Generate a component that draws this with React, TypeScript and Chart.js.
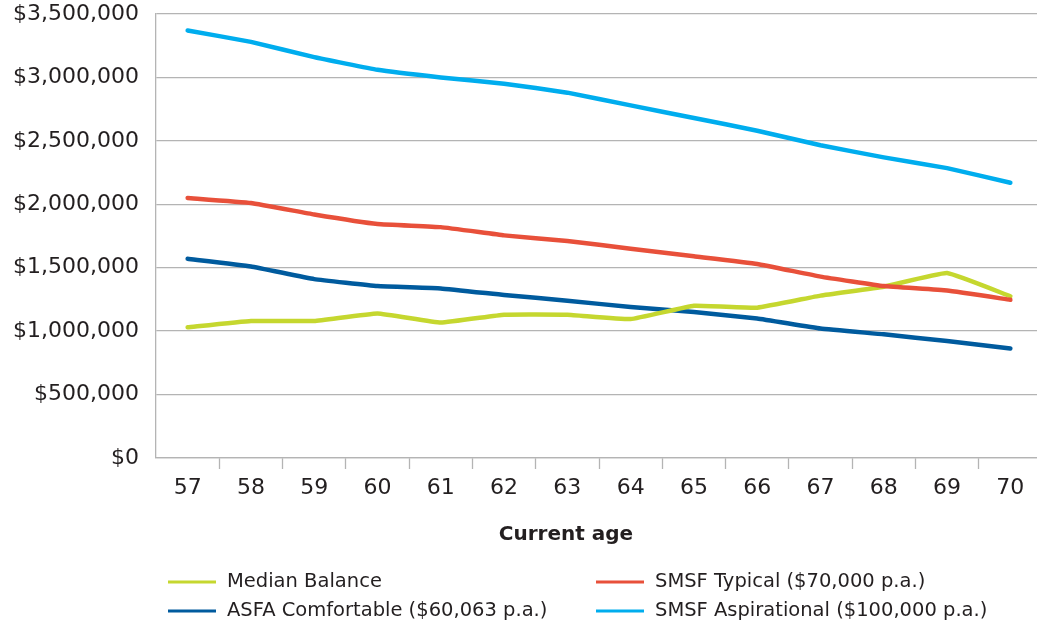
import React, { useEffect, useRef } from "react";
import { Chart, registerables } from "chart.js";

Chart.register(...registerables);

// Ages along the horizontal axis
const ages = ["57", "58", "59", "60", "61", "62", "63", "64", "65", "66", "67", "68", "69", "70"];

// Balances by current age
const medianBalance = [1030000, 1080000, 1080000, 1140000, 1068000, 1130000, 1130000, 1095000, 1200000, 1185000, 1280000, 1350000, 1458000, 1275000];
const asfaComfortable = [1570000, 1510000, 1410000, 1355000, 1337000, 1285000, 1240000, 1190000, 1150000, 1100000, 1020000, 975000, 922000, 864000];
const smsfTypical = [2050000, 2010000, 1920000, 1845000, 1820000, 1755000, 1710000, 1650000, 1590000, 1530000, 1430000, 1355000, 1320000, 1247000];
const smsfAspirational = [3370000, 3280000, 3160000, 3060000, 3000000, 2950000, 2880000, 2780000, 2680000, 2580000, 2465000, 2370000, 2285000, 2170000];

const seriesLabels = [
  "Median Balance",
  "ASFA Comfortable ($60,063 p.a.)",
  "SMSF Typical ($70,000 p.a.)",
  "SMSF Aspirational ($100,000 p.a.)",
];
const seriesColors = ["#c5d72f", "#005b9e", "#e8503a", "#00adee"];

const xTitle = "Current age";

const TEXT = "#231f20";
const GRID = "#b4b4b4";
const FONT = "'DejaVu Sans', sans-serif";

// Two-column legend and axis title drawn under the plot
const legendGrid = {
  id: "legendGrid",
  afterDraw(chart: Chart) {
    const ctx = chart.ctx;
    ctx.save();
    ctx.fillStyle = TEXT;
    ctx.font = `bold 20px ${FONT}`;
    ctx.textAlign = "center";
    ctx.textBaseline = "middle";
    ctx.fillText(xTitle, 566, 535);

    // column-major: Median / ASFA in the left column, SMSF pair on the right
    const cols = [168, 596];
    const rows = [582, 611];
    ctx.font = `19.5px ${FONT}`;
    ctx.textAlign = "left";
    chart.data.datasets.forEach((ds: any, i: number) => {
      const x = cols[Math.floor(i / 2)];
      const y = rows[i % 2];
      ctx.strokeStyle = ds.borderColor;
      ctx.lineWidth = 3;
      ctx.beginPath();
      ctx.moveTo(x, y);
      ctx.lineTo(x + 48, y);
      ctx.stroke();
      ctx.fillStyle = TEXT;
      ctx.fillText(ds.label, x + 59, y);
    });
    ctx.restore();
  },
};

export default function App() {
  const canvasRef = useRef<HTMLCanvasElement | null>(null);

  useEffect(() => {
    const canvas = canvasRef.current;
    if (!canvas) return;
    const values = [medianBalance, asfaComfortable, smsfTypical, smsfAspirational];
    const drawOrder = [1, 3, 0, 2];
    const chart = new Chart(canvas, {
      type: "line",
      data: {
        labels: ages,
        datasets: values.map((v, i) => ({
          label: seriesLabels[i],
          data: v,
          borderColor: seriesColors[i],
          backgroundColor: seriesColors[i],
          borderWidth: 4.5,
          borderCapStyle: "round",
          borderJoinStyle: "round",
          pointRadius: 0,
          pointHoverRadius: 0,
          tension: 0.1,
          fill: false,
          order: drawOrder[i],
        })),
      },
      options: {
        responsive: false,
        animation: false,
        layout: { padding: { top: 14, right: 3, bottom: 111, left: 0 } },
        plugins: {
          legend: { display: false },
          tooltip: { enabled: false },
          title: { display: false },
        },
        scales: {
          x: {
            offset: true,
            grid: {
              offset: true,
              drawOnChartArea: false,
              drawTicks: true,
              tickLength: 11,
              tickWidth: 1.3,
              tickColor: (c: any) => (c.index === 0 ? "rgba(0,0,0,0)" : GRID),
              color: GRID,
            },
            border: { display: true, color: GRID, width: 1.3 },
            ticks: {
              color: TEXT,
              font: { family: FONT, size: 22 },
              padding: 6,
              maxRotation: 0,
              autoSkip: false,
            },
            afterFit(scale: any) {
              scale.height = 60;
            },
          },
          y: {
            min: 0,
            max: 3500000,
            grid: { color: GRID, lineWidth: 1.3, drawTicks: false },
            border: { display: true, color: GRID, width: 1.3 },
            ticks: {
              stepSize: 500000,
              color: TEXT,
              font: { family: FONT, size: 22 },
              padding: 17,
              callback: (v: any) => "$" + Number(v).toLocaleString("en-US"),
            },
            afterFit(scale: any) {
              scale.width = 156;
              scale.paddingTop = 0;
              scale.paddingBottom = 0;
            },
          },
        },
      },
      plugins: [legendGrid],
    });
    return () => chart.destroy();
  }, []);

  return (
    <div
      style={{
        position: "fixed",
        left: 0,
        top: 0,
        width: 1037,
        height: 629,
        overflow: "hidden",
        background: "#ffffff",
      }}
    >
      <canvas ref={canvasRef} width={1045} height={629} style={{ display: "block" }} />
    </div>
  );
}
